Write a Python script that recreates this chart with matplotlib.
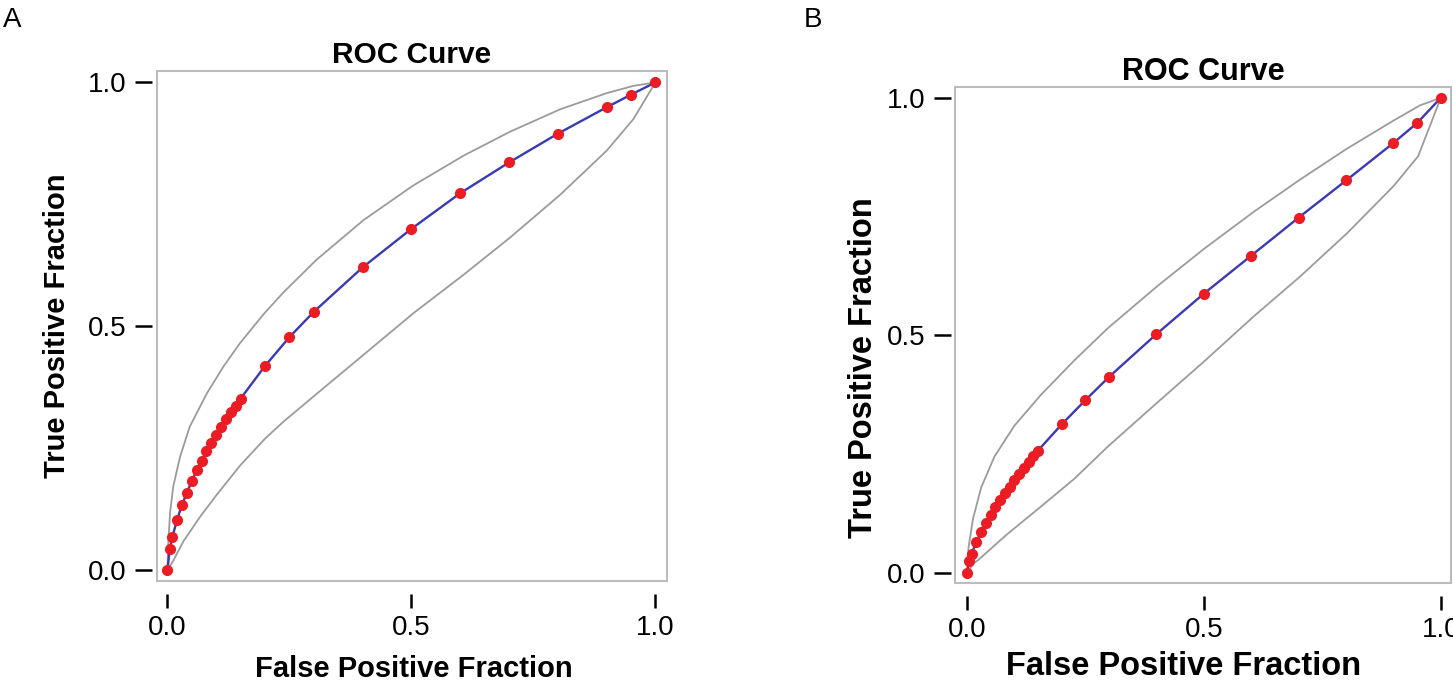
import matplotlib

matplotlib.use("Agg")
import matplotlib.pyplot as plt
from matplotlib.patches import Rectangle

plt.rcParams["font.family"] = ["Liberation Sans", "DejaVu Sans"]

# operating points (false positive fraction) shared by both panels
fpr_points = [0, 0.005, 0.01, 0.02, 0.03, 0.04, 0.05, 0.06, 0.07, 0.08, 0.09, 0.10,
              0.11, 0.12, 0.13, 0.14, 0.15, 0.2, 0.25, 0.3, 0.4, 0.5, 0.6, 0.7,
              0.8, 0.9, 0.95, 1.0]

# panel A
tpr_a = [0, 0.044, 0.068, 0.104, 0.135, 0.159, 0.184, 0.205, 0.225, 0.244, 0.261, 0.277,
         0.294, 0.310, 0.324, 0.338, 0.352, 0.419, 0.478, 0.530, 0.621, 0.700, 0.773, 0.836,
         0.895, 0.949, 0.975, 1.0]
upper_a_x = [0, 0.002, 0.0055, 0.012, 0.026, 0.046, 0.081, 0.115, 0.149, 0.197, 0.238,
             0.306, 0.402, 0.504, 0.607, 0.702, 0.805, 0.900, 0.955, 1.0]
upper_a_y = [0, 0.06, 0.118, 0.172, 0.233, 0.295, 0.363, 0.418, 0.466, 0.525, 0.570,
             0.637, 0.718, 0.789, 0.850, 0.899, 0.945, 0.978, 0.993, 1.0]
lower_a_x = [0, 0.012, 0.033, 0.067, 0.101, 0.149, 0.200, 0.238, 0.306, 0.402, 0.504,
             0.607, 0.702, 0.805, 0.900, 0.955, 1.0]
lower_a_y = [0, 0.02, 0.06, 0.11, 0.155, 0.215, 0.27, 0.305, 0.362, 0.442, 0.527,
             0.606, 0.682, 0.770, 0.860, 0.925, 1.0]

# panel B
tpr_b = [0, 0.026, 0.041, 0.066, 0.087, 0.105, 0.122, 0.139, 0.154, 0.168, 0.182, 0.196,
         0.209, 0.222, 0.234, 0.246, 0.258, 0.313, 0.364, 0.413, 0.503, 0.588, 0.668, 0.748,
         0.826, 0.905, 0.947, 1.0]
upper_b_x = [0, 0.0035, 0.013, 0.030, 0.058, 0.100, 0.156, 0.227, 0.297, 0.402, 0.500,
             0.605, 0.703, 0.802, 0.900, 0.956, 1.0]
upper_b_y = [0, 0.055, 0.115, 0.180, 0.245, 0.310, 0.375, 0.448, 0.515, 0.604, 0.682,
             0.760, 0.828, 0.893, 0.952, 0.984, 1.0]
lower_b_x = [0, 0.014, 0.023, 0.085, 0.156, 0.226, 0.297, 0.395, 0.500, 0.605, 0.703,
             0.802, 0.900, 0.952, 1.0]
lower_b_y = [0, 0.021, 0.027, 0.082, 0.140, 0.198, 0.266, 0.353, 0.445, 0.540, 0.624,
             0.715, 0.814, 0.877, 1.0]

tick_values = [0.0, 0.5, 1.0]
tick_labels = ["0.0", "0.5", "1.0"]

LINE_BLUE = "#3a3ab4"
DOT_RED = "#ec1c24"
BAND_GREY = "#9b9b9b"
FRAME_GREY = "#bcbcbc"


def draw_roc(ax, tpr, upper_x, upper_y, lower_x, lower_y, xlim, ylim,
             title_size, label_size, xlabel_pos, ylabel_pos):
    ax.plot(upper_x, upper_y, color=BAND_GREY, lw=1.3)
    ax.plot(lower_x, lower_y, color=BAND_GREY, lw=1.3)
    ax.plot(fpr_points, tpr, color=LINE_BLUE, lw=1.7, zorder=3)
    ax.plot(fpr_points, tpr, "o", color=DOT_RED, mec=DOT_RED, ms=7, zorder=4)
    ax.set_xlim(*xlim)
    ax.set_ylim(*ylim)
    ax.set_xticks(tick_values)
    ax.set_xticklabels(tick_labels)
    ax.set_yticks(tick_values)
    ax.set_yticklabels(tick_labels)

    for side in ax.spines:
        ax.spines[side].set_color("none")
    ax.spines["left"].set_position(("outward", 3))
    ax.spines["bottom"].set_position(("outward", 9.5))
    ax.add_patch(Rectangle((0, 0), 1, 1, transform=ax.transAxes, fill=False,
                           ec=FRAME_GREY, lw=1.5, clip_on=False, zorder=5))
    ax.tick_params(axis="y", length=12, width=1.8, pad=6.5, labelsize=20)
    ax.tick_params(axis="x", length=10, width=1.8, pad=5, labelsize=20)

    ax.set_title("ROC Curve", fontsize=title_size, fontweight="bold", pad=5.5)
    ax.set_xlabel("False Positive Fraction", fontsize=label_size, fontweight="bold", va="top")
    ax.set_ylabel("True Positive Fraction", fontsize=label_size, fontweight="bold", va="center")
    ax.xaxis.set_label_coords(*xlabel_pos)
    ax.yaxis.set_label_coords(*ylabel_pos)


fig = plt.figure(figsize=(14.53, 6.8), dpi=100)
ax_a = fig.add_axes([0.1078, 0.1460, 0.3510, 0.75])
ax_b = fig.add_axes([0.6573, 0.1431, 0.3412, 0.7285])

draw_roc(ax_a, tpr_a, upper_a_x, upper_a_y, lower_a_x, lower_a_y,
         (-0.022, 1.023), (-0.021, 1.024), 21.5, 21, (0.505, -0.145), (-0.196, 0.5))
draw_roc(ax_b, tpr_b, upper_b_x, upper_b_y, lower_b_x, lower_b_y,
         (-0.025, 1.021), (-0.020, 1.022), 22, 23.5, (0.46, -0.138), (-0.185, 0.435))

fig.text(0.002, 0.99, "A", fontsize=20, va="top", ha="left")
fig.text(0.553, 0.99, "B", fontsize=20, va="top", ha="left")

fig.savefig("out.png", dpi=100)
